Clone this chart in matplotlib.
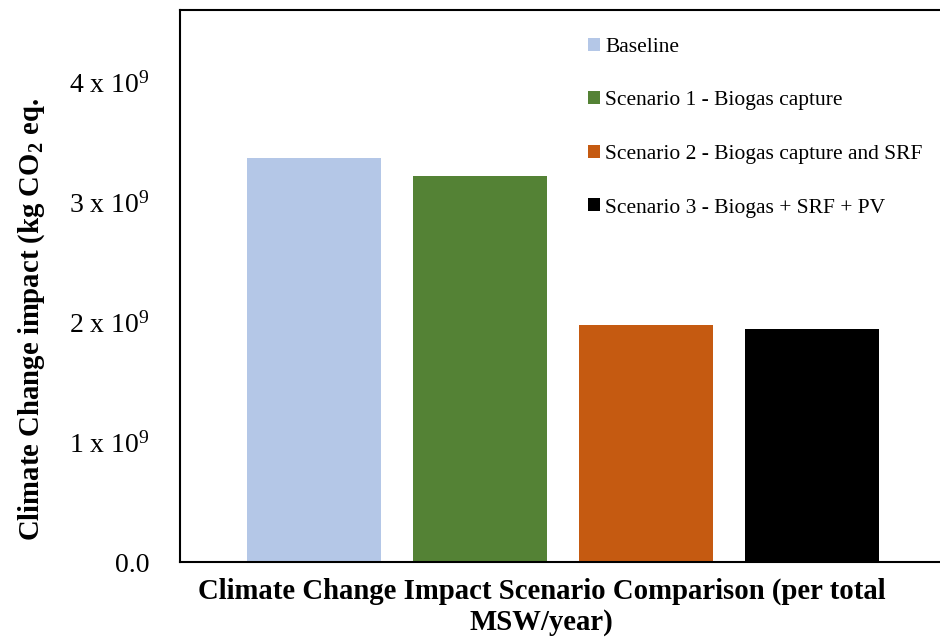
import matplotlib
matplotlib.use('Agg')
import matplotlib.pyplot as plt
import numpy as np

# Data
scenarios = ['Baseline', 'Scenario 1 - Biogas capture',
             'Scenario 2 - Biogas capture and SRF', 'Scenario 3 - Biogas + SRF + PV']
impact = [3.37e9, 3.22e9, 1.975e9, 1.94e9]
colors = ['#B4C7E7', '#548235', '#C55A11', '#000000']
yticks = [0, 1e9, 2e9, 3e9, 4e9]
ytick_labels = ['0.0', r'1 x 10$^{9}$', r'2 x 10$^{9}$', r'3 x 10$^{9}$', r'4 x 10$^{9}$']

plt.rcParams['font.family'] = ['Liberation Serif', 'DejaVu Serif']
plt.rcParams['mathtext.fontset'] = 'custom'
plt.rcParams['mathtext.rm'] = 'Liberation Serif'
plt.rcParams['mathtext.bf'] = 'Liberation Serif:bold'
plt.rcParams['mathtext.it'] = 'Liberation Serif:italic'

fig = plt.figure(figsize=(9.4, 6.37), dpi=100)
ax = fig.add_axes([180 / 940, 75 / 637, 760 / 940, 552 / 637])

x = np.arange(len(scenarios))
for i in range(len(scenarios)):
    ax.bar(x[i], impact[i], width=0.807, color=colors[i], label=scenarios[i])

ax.set_xlim(-0.807, 3.77)
ax.set_ylim(0, 4.6e9)
ax.set_xticks([])
ax.set_yticks(yticks)
ax.set_yticklabels(ytick_labels, fontsize=20)
ax.tick_params(axis='y', length=0, pad=22)

for s in ['left', 'bottom', 'top']:
    ax.spines[s].set_linewidth(1.5)
    ax.spines[s].set_color('black')
ax.spines['right'].set_visible(False)

ax.set_ylabel(r'Climate Change impact (kg CO$_\mathbf{2}$ eq.', fontsize=20.7, fontweight='bold')
ax.yaxis.set_label_coords(-0.175, 0.44)
ax.set_xlabel('Climate Change Impact Scenario Comparison (per total\nMSW/year)',
              fontsize=20.7, fontweight='bold', linespacing=1.2)
ax.xaxis.set_label_coords(0.476, -0.028)

leg = ax.legend(loc='upper left', bbox_to_anchor=(577 / 940, 1 - 27 / 637), bbox_transform=fig.transFigure,
                frameon=False, fontsize=15.5, handlelength=0.55, handleheight=0.55,
                handletextpad=0.25, labelspacing=1.6, borderpad=0)

plt.savefig('out.png', dpi=100, facecolor='white')
